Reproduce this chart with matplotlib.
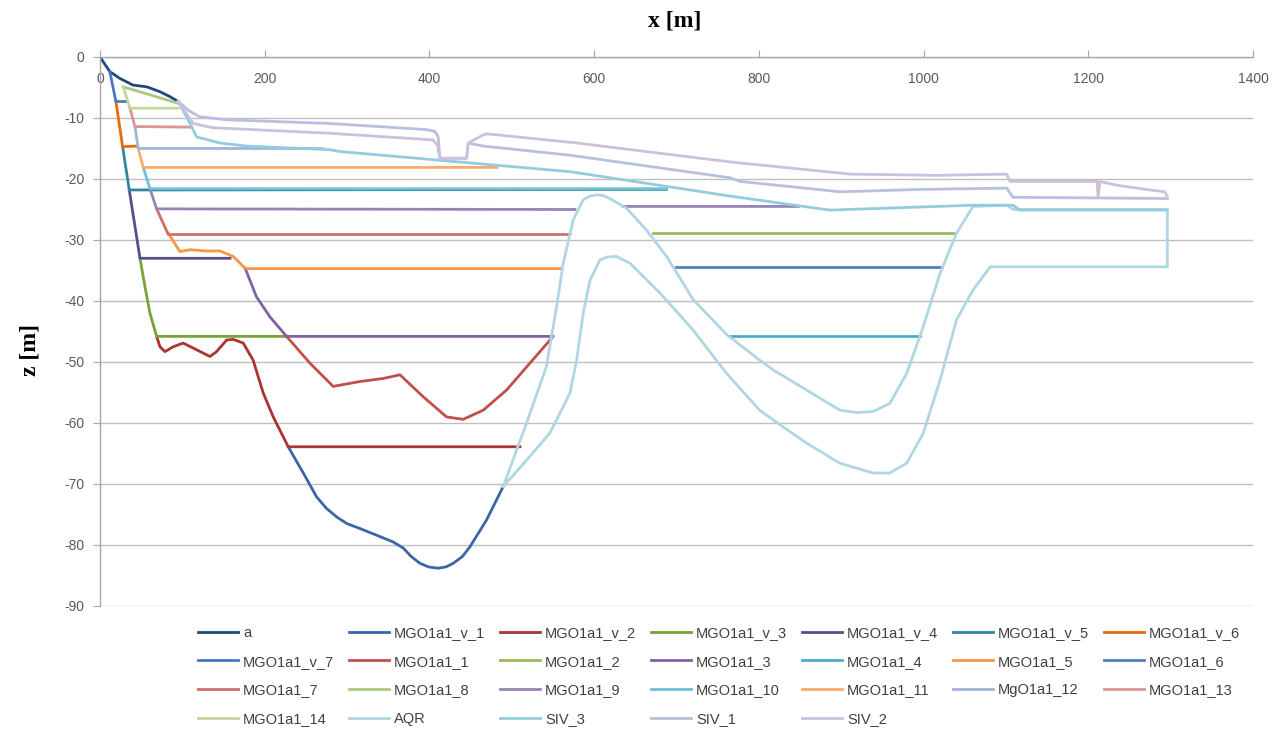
import matplotlib
matplotlib.use("Agg")
import matplotlib.pyplot as plt

plt.rcParams['font.family'] = ['Liberation Sans', 'DejaVu Sans']
plt.rcParams['axes.unicode_minus'] = False

nan = float('nan')

# section profiles: distance along the section x [m] and depth z [m]
a_x = [0, 5, 12, 24, 40, 57, 73, 85, 95]
a_z = [0, -1.0, -2.4, -3.5, -4.6, -4.9, -5.7, -6.5, -7.3]

v1_x = [228.6, 246.9, 263, 275, 287.4, 300, 315.7, 336, 356, 368.3, 378, 388.5, 399, 410.6, 420,
        429, 440, 449.2, 469.4, 489.7]
v1_z = [-63.9, -68.2, -72.1, -74.0, -75.4, -76.5, -77.3, -78.4, -79.5, -80.5, -81.9, -83.0, -83.6, -83.8, -83.6,
        -83.0, -81.9, -80.3, -75.9, -70.4]

v2_x = [68.8, 72.9, 78.9, 89, 101, 117.4, 133.6, 141.6, 153.8, 162, 174, 186, 198.3, 210.4, 228.6, 510]
v2_z = [-45.8, -47.5, -48.3, -47.5, -46.9, -48.0, -49.1, -48.3, -46.4, -46.3, -46.9, -49.7, -55.1, -59.0, -63.9, -63.9]

v3_x = [48.6, 54.6, 60.7, 68.8, 226.6]
v3_z = [-33.0, -37.6, -42.0, -45.8, -45.8]

v4_x = [35.6, 48.6, 158]
v4_z = [-21.8, -33.0, -33.0]

v5_x = [27.5, 35.6, 688]
v5_z = [-14.7, -21.8, -21.7]

v6_x = [19.4, 27.5, 45]
v6_z = [-7.3, -14.7, -14.6]

v7_x = [12, 19.4, 33]
v7_z = [-2.4, -7.3, -7.3]

m1_x = [226.6, 255, 283.2, 315.7, 344, 364.3, 392.5, 420.8, 441, 465.4, 493.7, 522, 548.4]
m1_z = [-45.8, -50.2, -54.0, -53.2, -52.7, -52.1, -55.7, -59.0, -59.4, -57.9, -54.6, -50.2, -46.1]

m2_x = [672, 1038]
m2_z = [-28.8, -28.8]

m3_x = [176, 178, 190, 206.4, 226.6, 550]
m3_z = [-34.6, -35.2, -39.3, -42.6, -45.8, -45.8]

m4_x = [765, 996]
m4_z = [-45.7, -45.7]

m5_x = [82.9, 97.1, 109.3, 129.5, 145.7, 161.8, 176, 178, 560.5]
m5_z = [-28.9, -31.9, -31.6, -31.8, -31.8, -32.7, -34.6, -34.7, -34.7]

m6_x = [700, 1022]
m6_z = [-34.5, -34.5]

m7_x = [68.8, 83, 570.7]
m7_z = [-24.9, -29.1, -29.1]

m8_x = [28.3, 60.7, 95]
m8_z = [-4.9, -6.2, -7.6]

m9_x = [60.7, 68.8, 576.7, nan, 635, 848]
m9_z = [-21.6, -24.9, -25.0, nan, -24.5, -24.5]

m10_x = [52.6, 60.7, 688]
m10_z = [-18.1, -21.6, -21.6]

m11_x = [46.5, 52.6, 482]
m11_z = [-15.0, -18.1, -18.1]

m12_x = [42.5, 46.5, 270]
m12_z = [-11.4, -15.0, -15.0]

m13_x = [36.4, 42.5, 109.3]
m13_z = [-8.4, -11.4, -11.5]

m14_x = [28.3, 36.4, 95]
m14_z = [-4.9, -8.4, -8.4]

aqr_x = [489.7, 518, 542, 554.5, 562.5, 574.7, 586.8, 595, 603, 611, 619, 639.5, 663.7, 688, 720.4,
         761, 801, 817.5, 858, 898.5, 920, 939, 959, 979.5, 999.6, 1020, 1040, 1060, 1101, 1109,
         1296, 1296, 1081, 1060, 1040, 1020, 999.6, 979.5, 959, 939, 898.5, 858, 817.5, 801,
         761, 720.4, 680, 643.5, 627, 615, 607, 595, 586.8, 578.8, 570.7, 558.5, 546, 518, 489.7]
aqr_z = [-70.4, -60.0, -50.8, -40.9, -33.8, -26.7, -23.4, -22.8, -22.6, -22.7, -23.2, -24.8, -28.4, -32.7, -39.8,
         -45.5, -49.7, -51.3, -54.6, -57.9, -58.3, -58.1, -56.8, -51.9, -44.2, -35.5, -28.9, -24.5, -24.3, -25.0,
         -25.0, -34.4, -34.4, -38.2, -43.1, -53.0, -61.7, -66.6, -68.2, -68.2, -66.6, -63.3, -59.5, -57.9,
         -51.9, -44.8, -38.7, -33.8, -32.7, -32.8, -33.3, -36.6, -42.0, -49.7, -55.1, -58.4, -61.7, -66.1, -70.4]

siv3_x = [95, 106, 117.4, 145.7, 178, 279, 291.4, 570.7, 765, 886, 1060, 1108.5, 1117, 1296]
siv3_z = [-7.3, -10.0, -13.1, -14.1, -14.6, -15.2, -15.5, -18.8, -22.8, -25.1, -24.3, -24.3, -25.1, -25.1]

siv1_x = [95, 108, 121, 154, 279, 396.5, 406.7, 410.7, 412.7, 445.1, 447.2, 465, 570.7, 765,
          777, 898.5, 1000, 1101, 1108.5, 1296]
siv1_z = [-7.3, -8.8, -9.8, -10.3, -10.9, -11.9, -12.2, -13.1, -16.6, -16.6, -14.1, -14.6, -16.1, -19.8,
          -20.4, -22.1, -21.7, -21.5, -23.0, -23.2]

siv2_x = [95, 113.3, 137, 279, 404.6, 410, 412.7, 445.1, 447.2, 465, 470, 579, 765, 910.6,
          1016, 1101, 1105, 1210.5, 1212, 1214, 1234, 1275, 1293, 1296]
siv2_z = [-7.3, -10.9, -11.6, -12.5, -13.6, -14.5, -16.6, -16.6, -14.1, -12.8, -12.6, -14.1, -17.2, -19.2,
          -19.4, -19.2, -20.4, -20.4, -22.9, -20.4, -21.0, -21.8, -22.1, -22.9]

names = ['a', 'MGO1a1_v_1', 'MGO1a1_v_2', 'MGO1a1_v_3', 'MGO1a1_v_4', 'MGO1a1_v_5', 'MGO1a1_v_6',
         'MGO1a1_v_7', 'MGO1a1_1', 'MGO1a1_2', 'MGO1a1_3', 'MGO1a1_4', 'MGO1a1_5', 'MGO1a1_6',
         'MGO1a1_7', 'MGO1a1_8', 'MGO1a1_9', 'MGO1a1_10', 'MGO1a1_11', 'MgO1a1_12', 'MGO1a1_13',
         'MGO1a1_14', 'AQR', 'SIV_3', 'SIV_1', 'SIV_2']
xs = [a_x, v1_x, v2_x, v3_x, v4_x, v5_x, v6_x, v7_x, m1_x, m2_x, m3_x, m4_x, m5_x, m6_x,
      m7_x, m8_x, m9_x, m10_x, m11_x, m12_x, m13_x, m14_x, aqr_x, siv3_x, siv1_x, siv2_x]
zs = [a_z, v1_z, v2_z, v3_z, v4_z, v5_z, v6_z, v7_z, m1_z, m2_z, m3_z, m4_z, m5_z, m6_z,
      m7_z, m8_z, m9_z, m10_z, m11_z, m12_z, m13_z, m14_z, aqr_z, siv3_z, siv1_z, siv2_z]

colors = ['#1f497d', '#3a66a8', '#a93431', '#76a33a', '#5f4b8b', '#31859c', '#e46c0a',
          '#4a78bd', '#c0504d', '#9bbb59', '#8064a2', '#4bacc6', '#f79646', '#4f81bd',
          '#cd6f6c', '#acc77f', '#9883b7', '#6cc1d8', '#f9ab6c', '#a3b4db', '#d99694',
          '#c3d69b', '#b0d6e3', '#93cddd', '#b7c0df', '#ccc0da']

fig = plt.figure(figsize=(12.83, 7.42), dpi=100)
ax = fig.add_axes([0.0779, 0.1833, 0.8987, 0.7399])

lines = []
for name, x, z, c in zip(names, xs, zs, colors):
    ln, = ax.plot(x, z, color=c, lw=2.0, label=name, solid_joinstyle='round')
    lines.append(ln)

ax.set_xlim(0, 1400)
ax.set_ylim(-90, 0)
ax.set_xticks(range(0, 1401, 200))
ax.set_yticks(range(-90, 1, 10))
ax.yaxis.grid(True, color='#bfbfbf', lw=1.0)
ax.set_axisbelow(True)

for side in ['bottom', 'right']:
    ax.spines[side].set_visible(False)
for side in ['top', 'left']:
    ax.spines[side].set_color('#a6a6a6')
    ax.spines[side].set_linewidth(1.0)

# x axis sits on the water surface (z = 0) with its labels hanging below it
ax.tick_params(axis='x', bottom=False, top=True, labelbottom=False, labeltop=True,
               direction='out', length=5, color='#a6a6a6', pad=-26,
               labelsize=10, labelcolor='#595959')
ax.tick_params(axis='y', direction='out', length=5, color='#a6a6a6', pad=6,
               labelsize=10, labelcolor='#595959')

fig.text(0.526, 0.972, 'x [m]', ha='center', va='center', fontsize=17,
         fontweight='bold', family='Liberation Serif')
fig.text(0.0234, 0.528, 'z [m]', ha='center', va='center', rotation=90, fontsize=17,
         fontweight='bold', family='Liberation Serif')

# legend reads row by row, matplotlib fills column by column
ncol = 7
order = [r * ncol + c for c in range(ncol) for r in range(4) if r * ncol + c < len(lines)]
fig.legend([lines[i] for i in order], [names[i] for i in order], ncol=ncol,
           loc='upper left', bbox_to_anchor=(198 / 1283, 1 - 626 / 742),
           frameon=False, fontsize=10.5, handlelength=2.75, handletextpad=0.35,
           columnspacing=1.0, labelspacing=1.0, borderpad=0, borderaxespad=0,
           labelcolor='#404040')

fig.savefig('out.png', dpi=100)
